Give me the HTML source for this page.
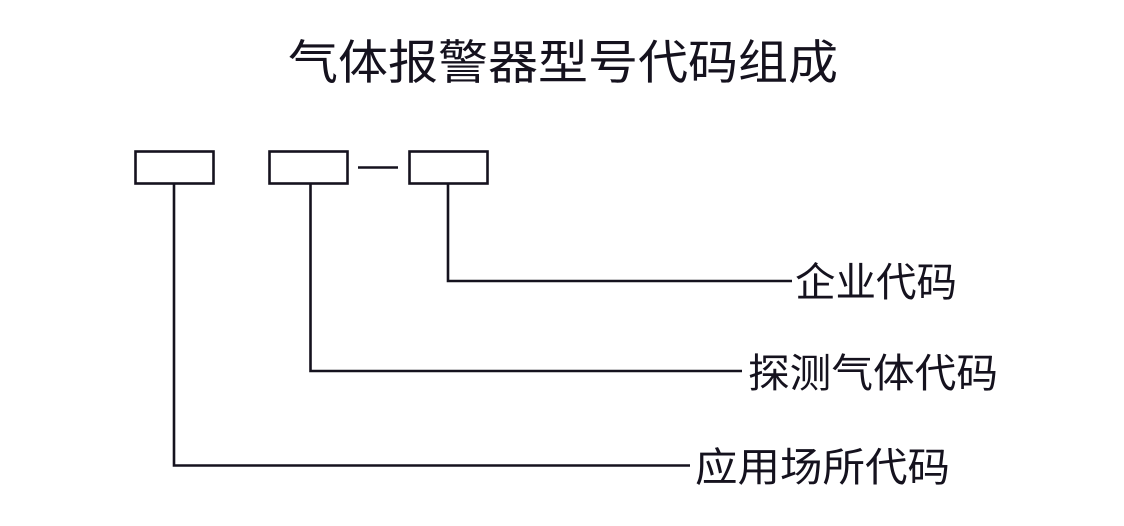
<!DOCTYPE html>
<html><head><meta charset="utf-8"><style>
html,body{margin:0;padding:0;background:#fff;}
svg{display:block;}
text{font-family:"Liberation Sans","Noto Sans CJK SC",sans-serif;fill:#15121e;}
</style></head><body>
<svg width="1124" height="526" viewBox="0 0 1124 526" xmlns="http://www.w3.org/2000/svg">
<rect width="1124" height="526" fill="#fff"/>
<text x="288" y="79" font-size="47" textLength="550" lengthAdjust="spacingAndGlyphs">气体报警器型号代码组成</text>
<g fill="none" stroke="#15121e" stroke-width="2.6">
<rect x="135.5" y="151.5" width="78" height="32"/>
<rect x="269.5" y="151.5" width="78" height="32"/>
<rect x="409.5" y="151.5" width="78" height="32"/>
<line x1="358" y1="167.5" x2="398" y2="167.5"/>
<polyline points="448,184 448,281 792,281"/>
<polyline points="310.5,184 310.5,371 742,371"/>
<polyline points="174,184 174,465.5 690,465.5"/>
</g>
<text x="795" y="296" font-size="40" textLength="162" lengthAdjust="spacingAndGlyphs">企业代码</text>
<text x="748" y="387" font-size="40" textLength="250" lengthAdjust="spacingAndGlyphs">探测气体代码</text>
<text x="695" y="481" font-size="40" textLength="255" lengthAdjust="spacingAndGlyphs">应用场所代码</text>
</svg>
</body></html>
